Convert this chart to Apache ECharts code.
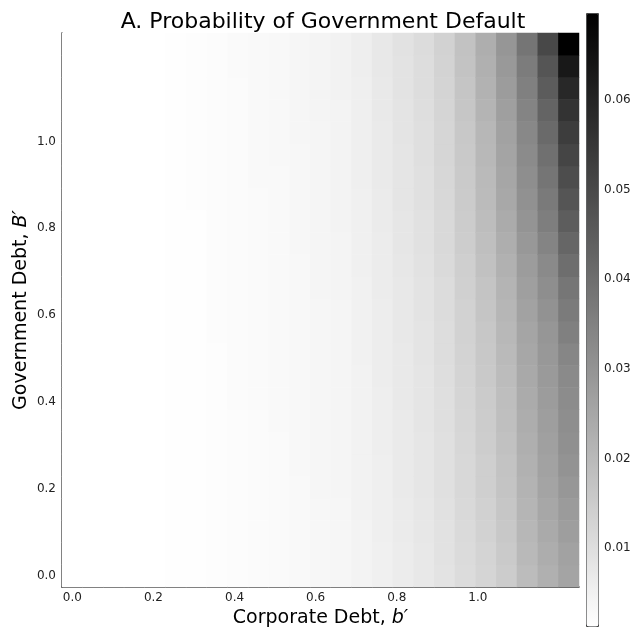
<!DOCTYPE html>
<html>
<head>
<meta charset="utf-8">
<script src="https://cdn.jsdelivr.net/npm/echarts@6/dist/echarts.min.js"></script>
<style>
html, body { margin: 0; padding: 0; background: #fff; }
#main { width: 637px; height: 631px; }
</style>
</head>
<body>
<div id="main"></div>
<script>
// grid points
var bGrid = [0.000, 0.051, 0.102, 0.153, 0.204, 0.255, 0.306, 0.357, 0.408, 0.459, 0.510, 0.561, 0.612,
             0.663, 0.714, 0.765, 0.816, 0.867, 0.918, 0.969, 1.020, 1.071, 1.122, 1.173, 1.224];
var BGrid = [0.000, 0.051, 0.102, 0.153, 0.204, 0.255, 0.306, 0.357, 0.408, 0.459, 0.510, 0.561, 0.612,
             0.663, 0.714, 0.765, 0.816, 0.867, 0.918, 0.969, 1.020, 1.071, 1.122, 1.173, 1.224];
var xTicks = [0.0, 0.2, 0.4, 0.6, 0.8, 1.0];
var yTicks = [0.0, 0.2, 0.4, 0.6, 0.8, 1.0];
var cbTicks = [0.01, 0.02, 0.03, 0.04, 0.05, 0.06];
var pMin = 0.0013, pMax = 0.0697;

// default probability, one array per b' column, B' from low to high
var p00 = [0.0013,0.0013,0.0013,0.0013,0.0013,0.0013,0.0013,0.0013,0.0013,0.0013,0.0013,0.0013,0.0013,0.0013,0.0013,0.0013,0.0013,0.0013,0.0013,0.0013,0.0013,0.0013,0.0013,0.0013,0.0013];
var p01 = [0.0013,0.0013,0.0013,0.0013,0.0013,0.0013,0.0013,0.0013,0.0013,0.0013,0.0013,0.0013,0.0013,0.0013,0.0013,0.0013,0.0013,0.0013,0.0013,0.0013,0.0013,0.0013,0.0013,0.0013,0.0013];
var p02 = [0.0013,0.0013,0.0013,0.0013,0.0013,0.0013,0.0013,0.0013,0.0013,0.0013,0.0013,0.0013,0.0013,0.0013,0.0013,0.0013,0.0013,0.0013,0.0013,0.0013,0.0013,0.0013,0.0013,0.0013,0.0013];
var p03 = [0.0014,0.0014,0.0014,0.0014,0.0014,0.0014,0.0014,0.0014,0.0014,0.0014,0.0014,0.0014,0.0014,0.0014,0.0014,0.0014,0.0014,0.0014,0.0014,0.0014,0.0014,0.0014,0.0014,0.0014,0.0014];
var p04 = [0.0014,0.0014,0.0014,0.0014,0.0014,0.0014,0.0014,0.0014,0.0014,0.0014,0.0014,0.0014,0.0014,0.0014,0.0014,0.0014,0.0014,0.0014,0.0014,0.0014,0.0014,0.0014,0.0014,0.0014,0.0014];
var p05 = [0.0015,0.0015,0.0015,0.0015,0.0015,0.0015,0.0015,0.0015,0.0015,0.0015,0.0015,0.0015,0.0016,0.0016,0.0016,0.0016,0.0016,0.0016,0.0016,0.0016,0.0016,0.0016,0.0016,0.0016,0.0016];
var p06 = [0.0016,0.0016,0.0016,0.0016,0.0016,0.0016,0.0016,0.0016,0.0017,0.0017,0.0017,0.0017,0.0017,0.0017,0.0017,0.0017,0.0017,0.0018,0.0018,0.0018,0.0018,0.0018,0.0018,0.0018,0.0018];
var p07 = [0.0018,0.0018,0.0018,0.0018,0.0019,0.0019,0.0019,0.0019,0.0019,0.0019,0.0019,0.0020,0.0020,0.0020,0.0020,0.0020,0.0020,0.0020,0.0021,0.0021,0.0021,0.0021,0.0021,0.0021,0.0021];
var p08 = [0.0021,0.0021,0.0021,0.0022,0.0022,0.0022,0.0022,0.0022,0.0023,0.0023,0.0023,0.0023,0.0023,0.0024,0.0024,0.0024,0.0024,0.0024,0.0025,0.0025,0.0025,0.0025,0.0025,0.0026,0.0026];
var p09 = [0.0024,0.0024,0.0024,0.0025,0.0025,0.0025,0.0025,0.0025,0.0026,0.0026,0.0026,0.0026,0.0026,0.0027,0.0027,0.0027,0.0027,0.0027,0.0028,0.0028,0.0028,0.0028,0.0028,0.0029,0.0029];
var p10 = [0.0026,0.0026,0.0026,0.0027,0.0027,0.0027,0.0027,0.0028,0.0028,0.0028,0.0028,0.0029,0.0029,0.0029,0.0029,0.0030,0.0030,0.0030,0.0030,0.0031,0.0031,0.0031,0.0031,0.0032,0.0032];
var p11 = [0.0029,0.0029,0.0030,0.0030,0.0030,0.0031,0.0031,0.0031,0.0032,0.0032,0.0032,0.0032,0.0033,0.0033,0.0033,0.0034,0.0034,0.0035,0.0035,0.0035,0.0036,0.0036,0.0036,0.0037,0.0037];
var p12 = [0.0034,0.0035,0.0035,0.0035,0.0036,0.0036,0.0036,0.0037,0.0037,0.0037,0.0038,0.0038,0.0038,0.0039,0.0039,0.0039,0.0040,0.0040,0.0041,0.0041,0.0041,0.0042,0.0042,0.0042,0.0043];
var p13 = [0.0037,0.0037,0.0038,0.0038,0.0039,0.0039,0.0039,0.0040,0.0040,0.0040,0.0041,0.0041,0.0041,0.0042,0.0043,0.0043,0.0044,0.0044,0.0045,0.0045,0.0045,0.0046,0.0047,0.0047,0.0048];
var p14 = [0.0045,0.0046,0.0046,0.0047,0.0047,0.0047,0.0048,0.0048,0.0049,0.0049,0.0050,0.0050,0.0051,0.0051,0.0052,0.0053,0.0054,0.0054,0.0055,0.0055,0.0056,0.0056,0.0057,0.0058,0.0059];
var p15 = [0.0053,0.0054,0.0055,0.0056,0.0056,0.0057,0.0058,0.0058,0.0059,0.0060,0.0060,0.0061,0.0062,0.0063,0.0064,0.0065,0.0066,0.0067,0.0068,0.0069,0.0070,0.0071,0.0072,0.0074,0.0075];
var p16 = [0.0064,0.0065,0.0066,0.0067,0.0068,0.0069,0.0069,0.0070,0.0071,0.0072,0.0073,0.0074,0.0075,0.0076,0.0077,0.0079,0.0080,0.0082,0.0083,0.0084,0.0085,0.0086,0.0088,0.0089,0.0091];
var p17 = [0.0075,0.0076,0.0077,0.0078,0.0080,0.0080,0.0081,0.0082,0.0083,0.0084,0.0085,0.0086,0.0088,0.0089,0.0091,0.0093,0.0094,0.0096,0.0097,0.0099,0.0100,0.0102,0.0103,0.0105,0.0107];
var p18 = [0.0088,0.0090,0.0092,0.0093,0.0095,0.0096,0.0097,0.0099,0.0100,0.0102,0.0103,0.0105,0.0107,0.0108,0.0111,0.0114,0.0116,0.0118,0.0120,0.0122,0.0124,0.0126,0.0129,0.0131,0.0134];
var p19 = [0.0107,0.0110,0.0112,0.0115,0.0117,0.0118,0.0121,0.0124,0.0125,0.0128,0.0130,0.0133,0.0135,0.0138,0.0142,0.0146,0.0150,0.0153,0.0156,0.0159,0.0161,0.0165,0.0169,0.0173,0.0177];
var p20 = [0.0126,0.0129,0.0133,0.0137,0.0141,0.0143,0.0147,0.0151,0.0153,0.0157,0.0161,0.0164,0.0168,0.0172,0.0178,0.0184,0.0190,0.0195,0.0199,0.0203,0.0207,0.0213,0.0219,0.0224,0.0230];
var p21 = [0.0150,0.0155,0.0161,0.0166,0.0171,0.0174,0.0179,0.0185,0.0187,0.0193,0.0198,0.0203,0.0209,0.0214,0.0222,0.0230,0.0238,0.0246,0.0252,0.0257,0.0262,0.0271,0.0279,0.0287,0.0295];
var p22 = [0.0193,0.0201,0.0206,0.0211,0.0217,0.0222,0.0228,0.0233,0.0238,0.0244,0.0249,0.0254,0.0262,0.0271,0.0279,0.0289,0.0300,0.0308,0.0316,0.0324,0.0332,0.0343,0.0354,0.0364,0.0383];
var p23 = [0.0225,0.0233,0.0241,0.0249,0.0257,0.0262,0.0268,0.0273,0.0279,0.0284,0.0289,0.0295,0.0305,0.0316,0.0327,0.0343,0.0359,0.0370,0.0383,0.0397,0.0413,0.0429,0.0450,0.0469,0.0504];
var p24 = [0.0257,0.0262,0.0273,0.0281,0.0292,0.0303,0.0311,0.0316,0.0321,0.0327,0.0338,0.0354,0.0367,0.0380,0.0402,0.0423,0.0448,0.0469,0.0490,0.0512,0.0533,0.0560,0.0590,0.0633,0.0697];
var pCols = [p00, p01, p02, p03, p04, p05, p06, p07, p08, p09, p10, p11, p12,
             p13, p14, p15, p16, p17, p18, p19, p20, p21, p22, p23, p24];

var heat = [];
for (var i = 0; i < bGrid.length; i++) {
	for (var j = 0; j < BGrid.length; j++) {
		heat.push([i, j, pCols[i][j]]);
	}
}

var step = bGrid[1] - bGrid[0];
var font = 'DejaVu Sans';
var chart = echarts.init(document.getElementById('main'), null, { renderer: 'canvas' });

var option = {
	backgroundColor: '#fff',
	animation: false,
	textStyle: { fontFamily: font },
	title: {
		text: 'A. Probability of Government Default',
		left: 318, top: 6, textAlign: 'center',
		textStyle: { fontFamily: font, fontSize: 22, fontWeight: 'normal', color: '#000' }
	},
	grid: [
		{ left: 62, top: 33, width: 517, height: 554, outerBoundsMode: 'none' },
		{ left: 586, top: 13, width: 12, height: 613, outerBoundsMode: 'none' }
	],
	xAxis: [
		{ type: 'category', gridIndex: 0, data: bGrid, position: 'top', show: false },
		{
			type: 'value', gridIndex: 0, position: 'bottom',
			min: bGrid[0] - step / 2, max: bGrid[bGrid.length - 1] + step / 2,
			name: 'Corporate Debt, {i|b′}', nameLocation: 'middle', nameGap: 20,
			nameTextStyle: { fontFamily: font, fontSize: 19, color: '#000', rich: { i: { fontFamily: font, fontSize: 19, fontStyle: 'italic', color: '#000' } } },
			axisLine: { show: true, lineStyle: { color: '#222', width: 1.5 } },
			axisTick: { show: false },
			splitLine: { show: false },
			axisLabel: { customValues: xTicks, margin: 5, fontFamily: font, fontSize: 12, color: '#222',
				formatter: function (v) { return v.toFixed(1); } }
		},
		{ type: 'value', gridIndex: 1, show: false, min: 0, max: 1 }
	],
	yAxis: [
		{ type: 'category', gridIndex: 0, data: BGrid, position: 'right', show: false },
		{
			type: 'value', gridIndex: 0, position: 'left',
			min: BGrid[0] - step / 2, max: BGrid[BGrid.length - 1] + step / 2,
			name: 'Government Debt, {i|B′}', nameLocation: 'middle', nameGap: 31, nameRotate: 90,
			nameMoveOverlap: false,
			nameTextStyle: { fontFamily: font, fontSize: 19, color: '#000', rich: { i: { fontFamily: font, fontSize: 19, fontStyle: 'italic', color: '#000' } } },
			axisLine: { show: true, lineStyle: { color: '#222', width: 1.5 } },
			axisTick: { show: false },
			splitLine: { show: false },
			axisLabel: { customValues: yTicks, margin: 6, fontFamily: font, fontSize: 12, color: '#222',
				formatter: function (v) { return v.toFixed(1); } }
		},
		{
			type: 'value', gridIndex: 1, position: 'right',
			min: pMin, max: pMax,
			axisLine: { show: false },
			axisTick: { show: true, customValues: cbTicks, length: 4, lineStyle: { color: '#333' } },
			splitLine: { show: false },
			axisLabel: { customValues: cbTicks, margin: 6, fontFamily: font, fontSize: 12, color: '#222',
				formatter: function (v) { return v.toFixed(2); } }
		}
	],
	visualMap: {
		type: 'continuous',
		min: pMin, max: pMax,
		seriesIndex: 0,
		dimension: 2,
		calculable: false,
		left: 586, top: 13,
		itemWidth: 12, itemHeight: 613,
		padding: 0,
		borderColor: '#444', borderWidth: 1,
		inRange: { color: ['#ffffff', '#000000'] }
	},
	series: [{
		type: 'heatmap',
		xAxisIndex: 0, yAxisIndex: 0,
		data: heat,
		progressive: 0,
		emphasis: { disabled: true }
	}]
};
chart.setOption(option);
</script>
</body>
</html>
